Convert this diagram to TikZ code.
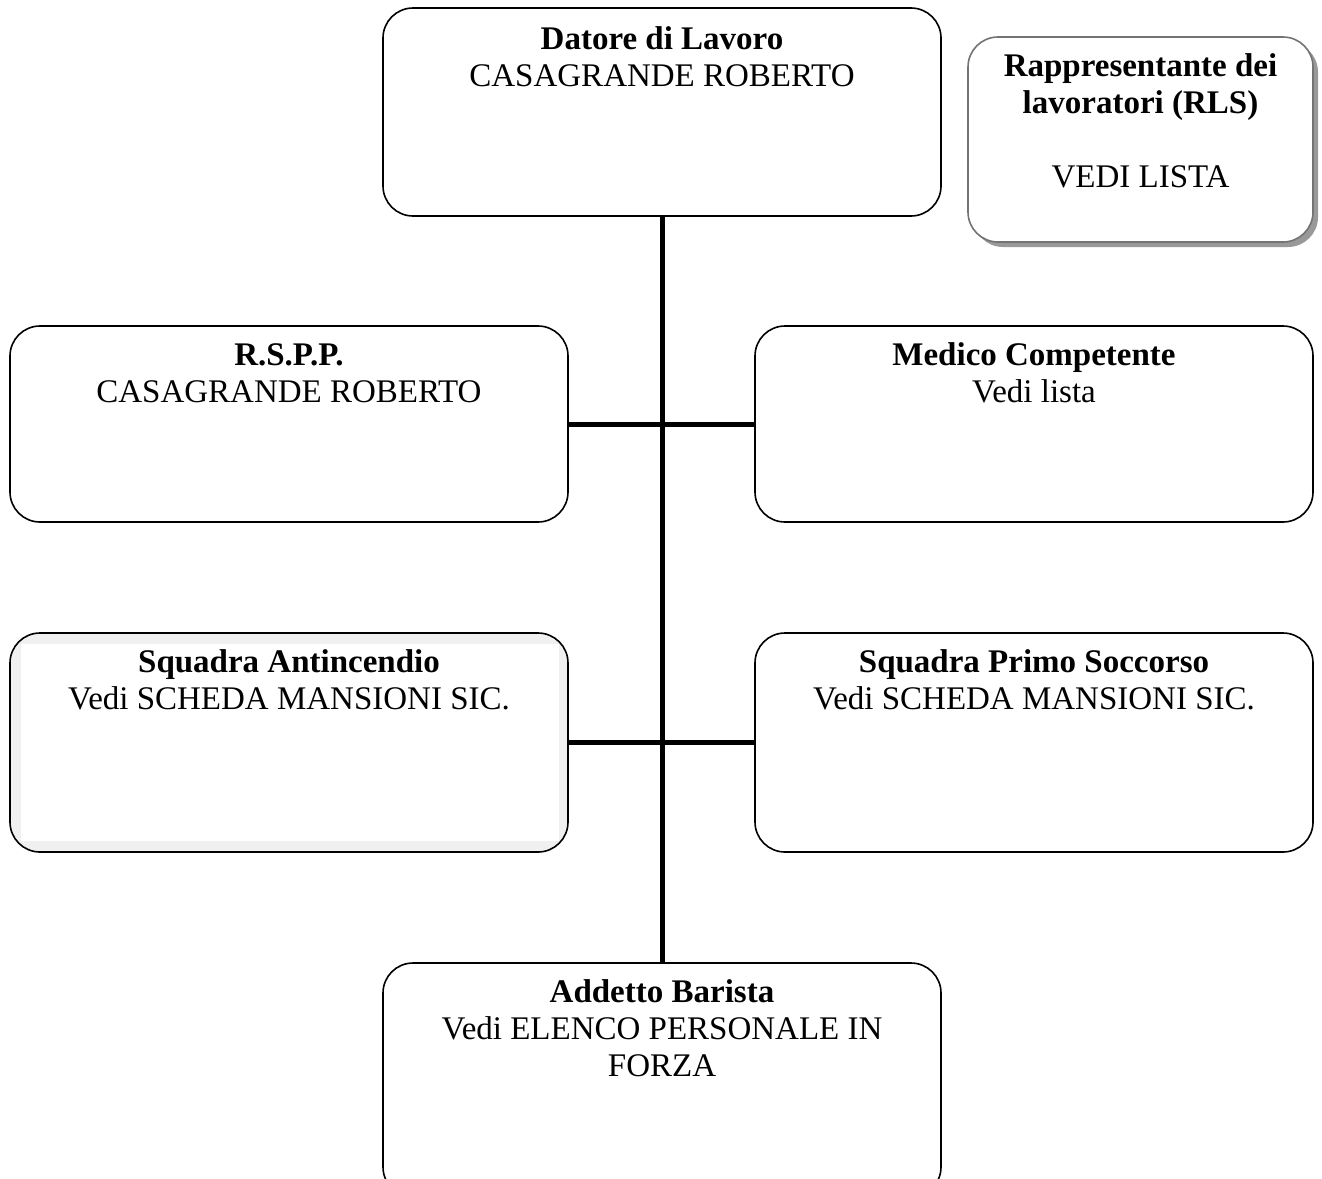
\documentclass[tikz,border=0pt]{standalone}
\usepackage{fontspec}
\setmainfont{Liberation Serif}
\usetikzlibrary{shadows,calc}
\begin{document}
\begin{tikzpicture}[x=1pt,y=-1pt,
  box/.style={draw, line width=1.6pt, rounded corners=30pt, fill=white, inner sep=0pt},
  lbl/.style={anchor=base, align=center, inner sep=0pt, font=\fontsize{33}{37}\selectfont},
  conn/.style={line width=5pt}]
\useasboundingbox (0,0) rectangle (1322,1178);
% boxes
\node[box, minimum width=558pt, minimum height=208pt] (datore) at (662,112) {};
\node[box, draw=black!55, minimum width=345pt, minimum height=205pt,
  drop shadow={shadow xshift=5pt, shadow yshift=-5pt, fill=black!40, opacity=1}] (rls) at (1140.5,139.5) {};
\node[box, minimum width=558pt, minimum height=196pt] (rspp) at (289,424) {};
\node[box, minimum width=558pt, minimum height=196pt] (medico) at (1034,424) {};
\node[box, fill=black!6, minimum width=558pt, minimum height=219pt] (antinc) at (289,742.5) {};
\fill[white] ($(antinc.north west)+(12,12)$) rectangle ($(antinc.south east)+(-10,-12)$);
\node[box, minimum width=558pt, minimum height=219pt] (primo) at (1034,742.5) {};
\node[box, minimum width=558pt, minimum height=234pt] (addetto) at (662,1080) {};
% connectors
\draw[conn] (datore.south) -- (addetto.north);
\draw[conn] (rspp.east) -- (medico.west);
\draw[conn] (antinc.east) -- (primo.west);
% texts (base anchor = baseline of the last line)
\node[lbl] (tdatore) at ([yshift=-79pt]datore.north) {\textbf{Datore di Lavoro}\\CASAGRANDE ROBERTO};
\node[lbl] (trls) at ([yshift=-151pt]rls.north) {\textbf{Rappresentante dei}\\\textbf{lavoratori (RLS)}\\[37pt]VEDI LISTA};
\node[lbl] (trspp) at ([yshift=-77pt]rspp.north) {\textbf{R.S.P.P.}\\CASAGRANDE ROBERTO};
\node[lbl] (tmedico) at ([yshift=-77pt]medico.north) {\textbf{Medico Competente}\\Vedi lista};
\node[lbl] (tantinc) at ([yshift=-77pt]antinc.north) {\textbf{Squadra Antincendio}\\Vedi SCHEDA MANSIONI SIC.};
\node[lbl] (tprimo) at ([yshift=-77pt]primo.north) {\textbf{Squadra Primo Soccorso}\\Vedi SCHEDA MANSIONI SIC.};
\node[lbl] (taddetto) at ([yshift=-114pt]addetto.north) {\textbf{Addetto Barista}\\Vedi ELENCO PERSONALE IN\\FORZA};
\end{tikzpicture}
\end{document}
